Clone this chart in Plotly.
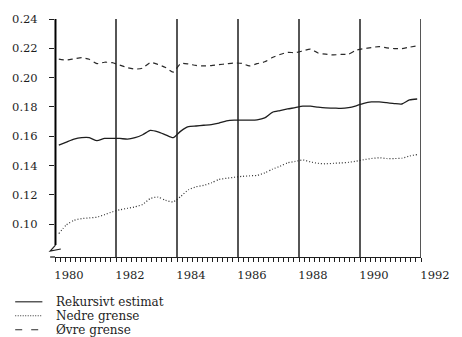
import plotly.graph_objects as go

# ---------------- data ----------------
t_years = [1980.125 + 0.25 * k for k in range(48)]

rekursivt = [0.154, 0.156, 0.158, 0.159, 0.159, 0.157, 0.1585, 0.1585, 0.1585, 0.158,
             0.159, 0.161, 0.164, 0.163, 0.161, 0.159, 0.1635, 0.1665, 0.167, 0.1675,
             0.168, 0.169, 0.1705, 0.171, 0.171, 0.171, 0.1712, 0.1725, 0.1763, 0.1775,
             0.1786, 0.1795, 0.1805, 0.1805, 0.1798, 0.1793, 0.1792, 0.179, 0.1795, 0.1808,
             0.1825, 0.1834, 0.1834, 0.1829, 0.1823, 0.182, 0.1848, 0.1854]

nedre = [0.0936, 0.0995, 0.1027, 0.1038, 0.1043, 0.1048, 0.1065, 0.1084, 0.1098, 0.1108,
         0.1118, 0.1135, 0.1175, 0.1185, 0.1163, 0.1152, 0.119, 0.1235, 0.1255, 0.1265,
         0.1282, 0.1305, 0.1313, 0.132, 0.1326, 0.133, 0.1333, 0.135, 0.1375, 0.1395,
         0.1418, 0.1428, 0.1438, 0.1425, 0.1415, 0.1412, 0.1415, 0.1418, 0.1422, 0.143,
         0.144, 0.1448, 0.1453, 0.1448, 0.1448, 0.145, 0.1465, 0.1475]

ovre = [0.2126, 0.212, 0.2128, 0.2136, 0.2125, 0.2096, 0.2105, 0.2102, 0.2085, 0.2068,
        0.2058, 0.2065, 0.2103, 0.209, 0.2069, 0.2038, 0.2096, 0.2093, 0.2083, 0.208,
        0.2082, 0.2088, 0.2094, 0.21, 0.2097, 0.208, 0.2095, 0.2108, 0.2137, 0.2158,
        0.2172, 0.2171, 0.2182, 0.2194, 0.2168, 0.216, 0.2155, 0.2158, 0.216, 0.2187,
        0.2198, 0.2205, 0.2212, 0.2203, 0.2198, 0.2198, 0.2208, 0.2216]

series_names = ["Rekursivt estimat", "Nedre grense", "Øvre grense"]
x_tick_years = [1980, 1982, 1984, 1986, 1988, 1990, 1992]
y_tick_vals = [0.10, 0.12, 0.14, 0.16, 0.18, 0.20, 0.22, 0.24]
divider_years = [1982, 1984, 1986, 1988, 1990, 1992]

# ---------------- layout geometry ----------------
W, H = 462, 337
ML, MR, MT, MB = 51, 34, 18, 80
PW, PH = W - ML - MR, H - MT - MB
X_RANGE = [1980, 1992]
Y_RANGE = [0.0776, 0.24]

def px_x(px):  # pixel -> paper x
    return (px - ML) / PW

def px_y(py):  # pixel -> paper y
    return (H - MB - py) / PH

INK = "#1e1e1e"
FONT = "DejaVu Serif, serif"

fig = go.Figure()
styles = [
    dict(color=INK, width=1.3, dash="solid"),
    dict(color="#333333", width=1.2, dash="1px,2px"),
    dict(color="#2a2a2a", width=1.2, dash="5px,4px"),
]
for name, vals, st in zip(series_names, [rekursivt, nedre, ovre], styles):
    fig.add_trace(go.Scatter(x=t_years, y=vals, mode="lines", name=name,
                             line=dict(shape="spline", smoothing=0.6, **st),
                             showlegend=False))

shapes = []
# vertical divider lines
for yr in divider_years:
    shapes.append(dict(type="line", xref="x", yref="paper", x0=yr, x1=yr, y0=0, y1=1,
                       line=dict(color=INK, width=1.5)))
# y axis line (drawn as a shape so it can stop above the axis break)
shapes.append(dict(type="line", xref="paper", yref="paper", x0=px_x(51.5), x1=px_x(51.5),
                   y0=px_y(245), y1=1, line=dict(color="#000000", width=2), layer="above"))
brk = [(51.5, 245), (46, 251), (57, 249)]
path = "M " + " L ".join(f"{px_x(a):.5f},{px_y(b):.5f}" for a, b in brk)
shapes.append(dict(type="path", xref="paper", yref="paper", path=path,
                   line=dict(color=INK, width=1.2), layer="above"))
# x-axis line extension left of y axis
shapes.append(dict(type="line", xref="paper", yref="paper", x0=px_x(46), x1=0,
                   y0=0, y1=0, line=dict(color=INK, width=1.3)))

# custom legend (samples + text)
leg_rows = [302, 316, 330]
leg_dash = ["solid", "1px,1.5px", "7px,9px"]
for i, st in enumerate(styles):
    yy = px_y(leg_rows[i])
    shapes.append(dict(type="line", xref="paper", yref="paper", x0=px_x(10), x1=px_x(38),
                       y0=yy, y1=yy, line=dict(color=st["color"], width=1.1, dash=leg_dash[i])))

annotations = []
for i, name in enumerate(series_names):
    annotations.append(dict(xref="paper", yref="paper", x=px_x(51), y=px_y(leg_rows[i]),
                            text=name, showarrow=False, xanchor="left", yanchor="middle",
                            borderpad=0,
                            font=dict(family=FONT, size=12, color=INK)))

fig.update_layout(
    width=W, height=H,
    margin=dict(l=ML, r=MR, t=MT, b=MB, pad=0),
    paper_bgcolor="white", plot_bgcolor="white",
    font=dict(family=FONT, size=11.5, color=INK),
    shapes=shapes, annotations=annotations,
    xaxis=dict(range=X_RANGE, tickvals=x_tick_years, ticktext=[str(v) for v in x_tick_years],
               ticks="outside", ticklen=4, tickwidth=1, tickcolor=INK,
               showline=True, linecolor=INK, linewidth=1.3, showgrid=False, zeroline=False,
               ticklabelshift=14, ticklabelstandoff=3,
               tickfont=dict(family=FONT, size=11.5, color=INK),
               minor=dict(dtick=1/6, tick0=1980, ticks="outside", ticklen=4,
                          tickwidth=1, tickcolor=INK, showgrid=False)),
    yaxis=dict(range=Y_RANGE, tickvals=y_tick_vals, tickformat=".2f",
               ticks="outside", ticklen=5, tickwidth=1.2, tickcolor=INK,
               tickfont=dict(family=FONT, size=11.5, color=INK),
               showline=False, showgrid=False, zeroline=False, ticklabelstandoff=9),
)

fig.write_html("out.html")
